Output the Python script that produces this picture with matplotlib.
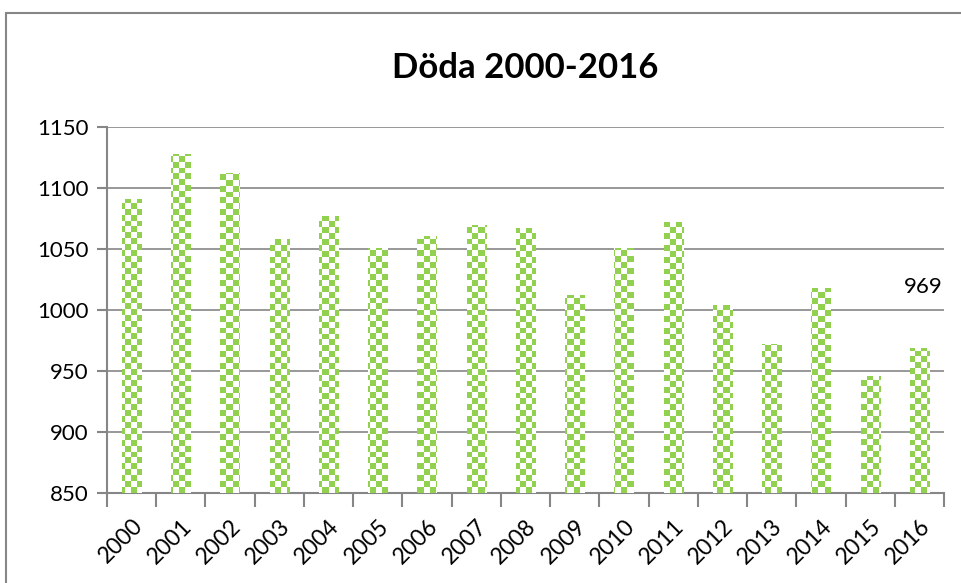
import numpy as np
import matplotlib
matplotlib.use("Agg")
import matplotlib.pyplot as plt
from matplotlib.patches import Rectangle

years = [str(y) for y in range(2000, 2017)]
deaths = [1091, 1128, 1112, 1058, 1077, 1051, 1061, 1070, 1067,
          1012, 1051, 1072, 1004, 972, 1018, 946, 969]
yticks = [850, 900, 950, 1000, 1050, 1100, 1150]

plt.rcParams['font.family'] = ['Lato', 'DejaVu Sans']

green = '#92D050'
grey = '#868686'

fig = plt.figure(figsize=(9.62, 5.83), dpi=100)
ax = fig.add_axes([107 / 962, 1 - 493 / 583, (944 - 107) / 962, (493 - 127) / 583])

# outer chart border
fig.add_artist(Rectangle((6 / 962, -0.05), 1.2, 1 - 13 / 583 + 0.05,
                         transform=fig.transFigure, fill=False,
                         edgecolor=grey, linewidth=1.5))

x = np.arange(len(years))
bars = ax.bar(x, np.array(deaths) - yticks[0], bottom=yticks[0], width=0.39,
              color='none', edgecolor='none', zorder=3)

# checkerboard fill, clipped to each bar
cell = 6  # px
nx = int(837 / cell) + 1
ny = int(366 / cell) + 1
board = (np.add.outer(np.arange(ny), np.arange(nx)) % 2).astype(float)
cmap = matplotlib.colors.ListedColormap(['white', green])
for b in bars:
    im = ax.imshow(board, cmap=cmap, extent=(0, 1, 0, 1), transform=ax.transAxes,
                   aspect='auto', interpolation='nearest', origin='upper', zorder=3)
    im.set_clip_path(b)

ax.set_xlim(-0.5, len(years) - 0.5)
ax.set_ylim(yticks[0], yticks[-1])
ax.set_yticks(yticks)
ax.set_xticks(x)
ax.set_xticklabels(years, rotation=45, ha='right', rotation_mode='anchor')
ax.set_xticks(np.arange(len(years) + 1) - 0.5, minor=True)
ax.tick_params(axis='x', which='major', length=0, labelsize=16.5, pad=16)
ax.tick_params(axis='x', which='minor', length=10, width=1.5, color=grey, direction='out')
ax.tick_params(axis='y', length=7, width=1.5, color=grey, labelsize=16, pad=6)

ax.grid(axis='y', color=grey, linewidth=1.2, zorder=0)
ax.set_axisbelow(True)
for s in ['top', 'right']:
    ax.spines[s].set_visible(False)
for s in ['left', 'bottom']:
    ax.spines[s].set_color(grey)
    ax.spines[s].set_linewidth(1.5)

fig.text(525 / 962, 1 - 68 / 583, 'Döda 2000-2016', ha='center', va='center',
         fontsize=25, fontweight='bold')

ax.annotate(str(deaths[-1]), (x[-1], deaths[-1]), xytext=(4, 61),
            textcoords='offset pixels', ha='center', va='center', fontsize=16)

fig.savefig('out.png', dpi=100)
